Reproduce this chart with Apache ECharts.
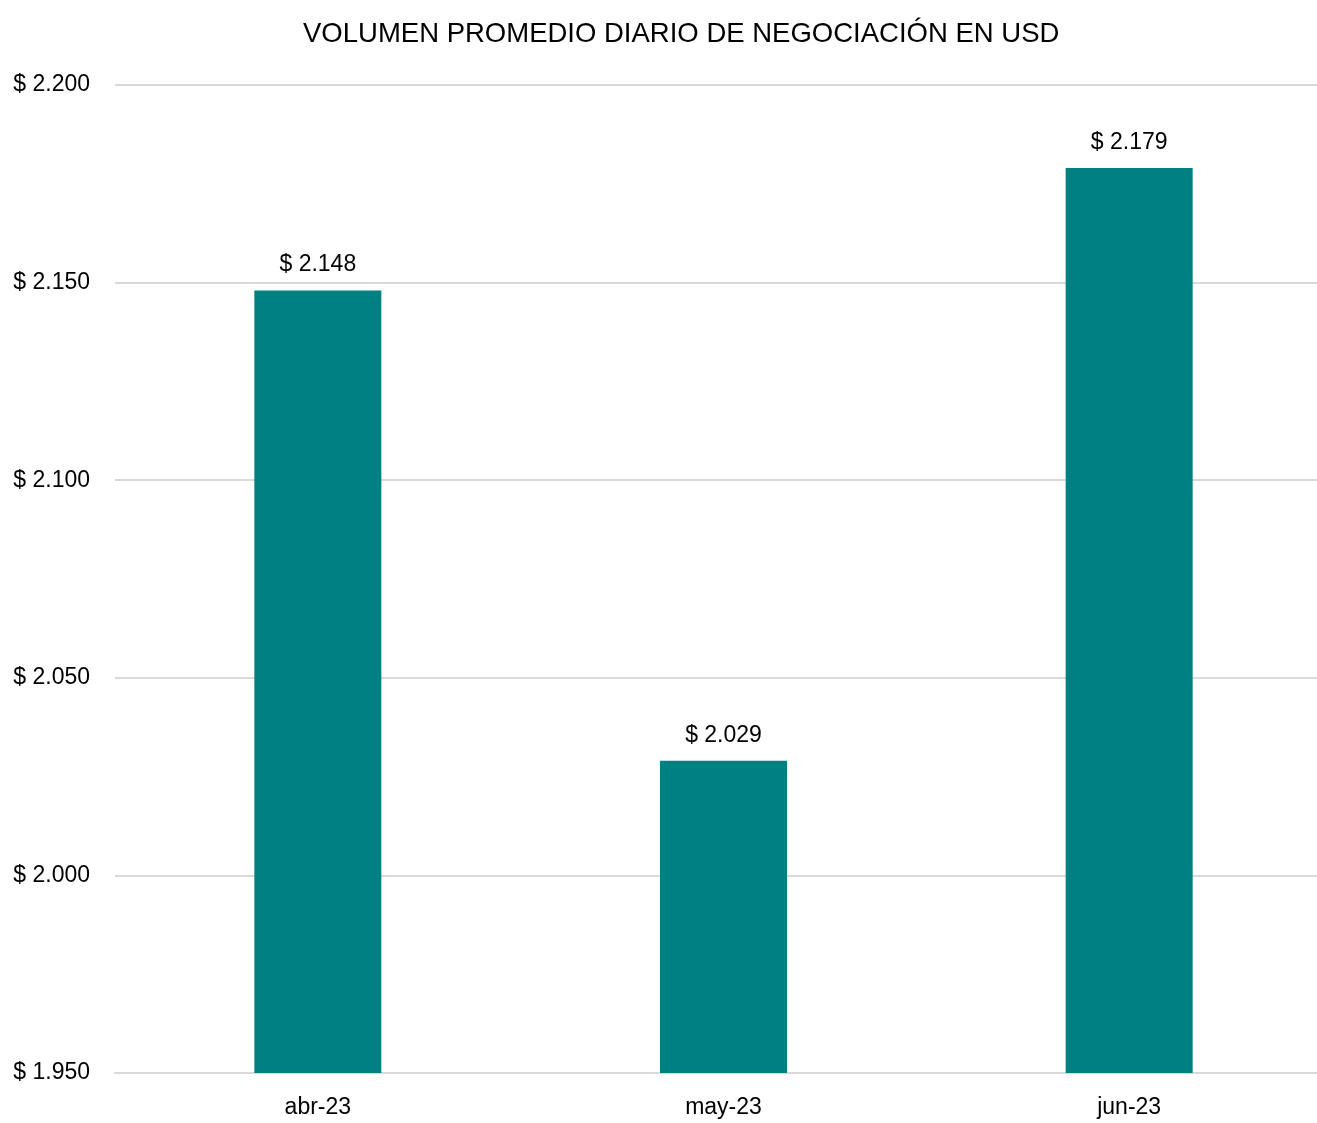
<!DOCTYPE html>
<html>
<head>
<meta charset="utf-8">
<script src="https://cdn.jsdelivr.net/npm/echarts@6/dist/echarts.min.js"></script>
<style>
  html, body { margin: 0; padding: 0; background: #ffffff; }
  #chart { width: 1317px; height: 1123px; }
</style>
</head>
<body>
<div id="chart"></div>
<script>
// Average daily trading volume (USD), monthly
const months = ['abr-23', 'may-23', 'jun-23'];
const volumes = [2148, 2029, 2179];
const yTicks = [1950, 2000, 2050, 2100, 2150, 2200];

const FONT = '"Liberation Sans", Arial, sans-serif';

// Spanish-style thousands separator: 2148 -> "$ 2.148"
function money(v) {
  return '$ ' + String(Math.round(v)).replace(/\B(?=(\d{3})+(?!\d))/g, '.');
}

const chart = echarts.init(document.getElementById('chart'), null, { renderer: 'canvas' });

chart.setOption({
  animation: false,
  backgroundColor: '#ffffff',
  title: {
    text: 'VOLUMEN PROMEDIO DIARIO DE NEGOCIACIÓN EN USD',
    left: 298,
    top: 15,
    textStyle: { fontFamily: FONT, fontSize: 27.5, fontWeight: 'normal', color: '#000000' }
  },
  grid: { left: 115, top: 85, width: 1217, height: 988, outerBoundsMode: 'none' },
  xAxis: {
    type: 'category',
    data: months,
    axisLine: { show: true, lineStyle: { color: '#d9d9d9', width: 2 } },
    axisTick: { show: false },
    axisLabel: { fontFamily: FONT, fontSize: 23, color: '#000000', margin: 23 }
  },
  yAxis: {
    type: 'value',
    min: yTicks[0],
    max: yTicks[yTicks.length - 1],
    interval: 50,
    axisLine: { show: false },
    axisTick: { show: false },
    splitLine: { lineStyle: { color: '#d9d9d9', width: 2 } },
    axisLabel: {
      fontFamily: FONT, fontSize: 23, color: '#000000', margin: 25,
      formatter: money
    }
  },
  series: [{
    type: 'bar',
    data: volumes,
    barWidth: 127,
    itemStyle: { color: '#008080' },
    label: {
      show: true,
      position: 'top',
      distance: 14,
      fontFamily: FONT, fontSize: 23, color: '#000000',
      formatter: p => money(p.value)
    }
  }]
});
</script>
</body>
</html>
